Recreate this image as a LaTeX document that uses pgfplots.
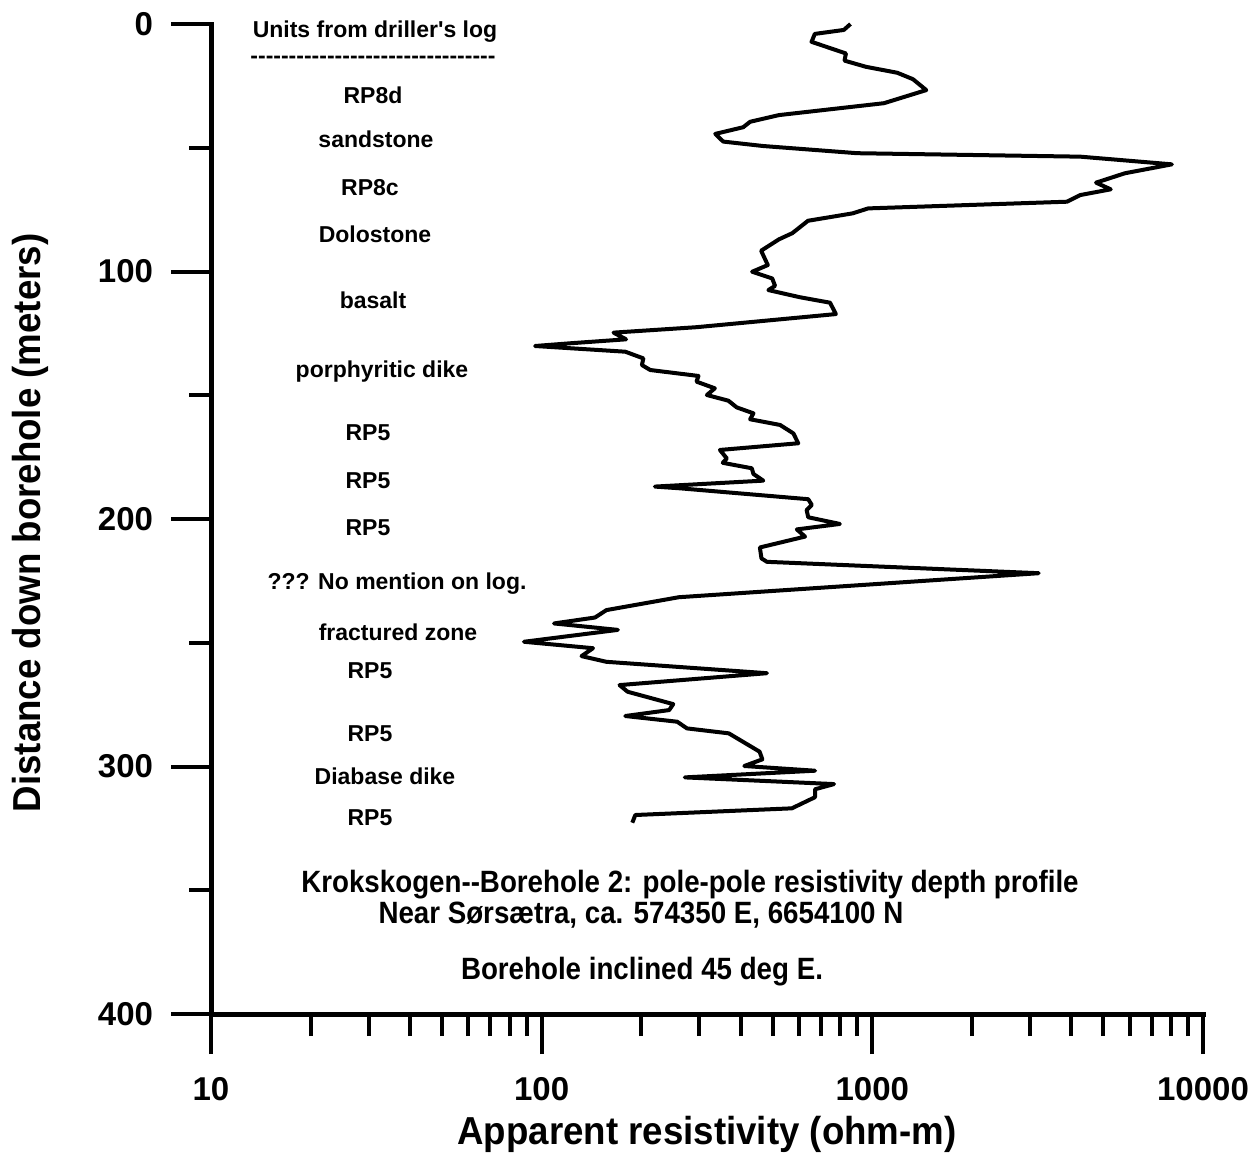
\documentclass[border=0pt]{standalone}
\usepackage{pgfplots}
\pgfplotsset{compat=1.18}
\usepackage{pgfplotstable}
\usepackage{fontspec}
\newfontfamily\lab{Liberation Sans}
\newfontfamily\narrowf{Liberation Sans}[FakeStretch=0.9]
\newfontfamily\axlab{Liberation Sans}[FakeStretch=0.94]

\pgfplotstableread{
x y
859 0
820 2.4
670 4.0
655 7.2
832 11.9
824 14.8
957 17.3
1190 19.7
1327 22.3
1456 26.7
1084 32.0
522 36.8
427 39.5
407 41.7
335 44.4
354 47.5
468 49.3
900 52.2
4258 53.6
8054 56.7
5808 60.3
4748 64.1
5260 66.8
4258 69.1
3879 71.8
972 74.5
872 76.5
639 79.5
573 84.5
522 87.0
461 91.6
483 97.4
433 100.1
498 102.8
508 105.8
485 107.5
604 110.4
745 112.6
776 117.2
294 122.5
165 124.7
180 127.4
122 129.0
95.5 130.1
122 131.0
179 132.4
203 135.1
201 137.8
213 139.8
298 142.2
294 144.5
334 147.2
316 149.9
367 152.2
389 154.9
437 157.3
427 159.7
526 162.0
577 165.4
597 169.4
346 172.1
363 175.5
353 177.3
432 179.5
437 181.8
468 184.5
220 186.9
262 187.6
640 192.0
656 194.3
633 196.4
640 199.3
798 202.0
591 204.2
626 207.1
457 211.5
462 215.9
480 217.3
3185 221.9
260 231.6
157 236.8
145 239.8
109 242.2
170 244.8
88.4 249.6
143 252.2
132 255.4
157 257.7
480 262.3
172 267.1
182 269.8
250 274.8
243 277.2
179 279.6
257 281.9
275 284.6
368 286.6
456 294.0
465 297.1
410 299.8
671 301.7
271 304.4
766 307.1
671 309.2
671 312.4
571 316.9
192 319.6
188 322.7
}\profile

\begin{document}
\begin{tikzpicture}
\begin{axis}[
  at={(0,0)}, anchor=south west,
  scale only axis, width=496pt, height=495pt,
  xmode=log, xmin=10, xmax=10000,
  ymin=0, ymax=400, y dir=reverse,
  axis x line=bottom, axis y line=left,
  axis line style={-, line width=2.5pt, line cap=rect},
  xtick={10,100,1000,10000},
  xticklabels={10,100,1000,10000},
  minor xtick={20,30,40,50,60,70,80,90,200,300,400,500,600,700,800,900,2000,3000,4000,5000,6000,7000,8000,9000},
  ytick={0,100,200,300,400},
  minor ytick={50,150,250,350},
  tick align=outside,
  major tick length=20pt, minor tick length=11pt,
  every tick/.style={black, line width=2pt},
  /pgf/number format/assume math mode=true,
  ticklabel style={font=\lab\bfseries\fontsize{16.5}{18}\selectfont},
  xticklabel style={yshift=-8pt},
  yticklabel style={xshift=-5.5pt},
  clip=false,
]
\addplot[black, line width=2pt, line join=round, mark=none] table[x=x, y=y] {\profile};
\end{axis}
% texts: x_pt=(px-211)*0.5, y_pt=(1014-py)*0.5
\begin{scope}[every node/.style={inner sep=0pt, anchor=base, font=\lab\bfseries\fontsize{11.5}{13}\selectfont}]
\node at (82pt,488pt) {Units from driller's log};
\node at (81pt,475pt) {--------------------------------};
\node at (81pt,455pt) {RP8d};
\node at (82.5pt,433pt) {sandstone};
\node at (79.5pt,409pt) {RP8c};
\node at (82pt,385.5pt) {Dolostone};
\node at (81pt,352.5pt) {basalt};
\node at (85.5pt,318pt) {porphyritic dike};
\node at (78.5pt,286.5pt) {RP5};
\node at (78.5pt,262.5pt) {RP5};
\node at (78.5pt,239pt) {RP5};
\node at (93pt,212pt) {??? No mention on log.};
\node at (93.5pt,186.5pt) {fractured zone};
\node at (79.5pt,167.5pt) {RP5};
\node at (79.5pt,136pt) {RP5};
\node at (87pt,114.5pt) {Diabase dike};
\node at (79.5pt,94pt) {RP5};
\end{scope}
\begin{scope}[every node/.style={inner sep=0pt, anchor=base, font=\narrowf\bfseries\fontsize{15.4}{17}\selectfont}]
\node at (239.5pt,60.5pt) {Krokskogen--Borehole 2: pole-pole resistivity depth profile};
\node at (215pt,45pt) {Near Sørsætra, ca. 574350 E, 6654100 N};
\node at (215.5pt,17pt) {Borehole inclined 45 deg E.};
\end{scope}
\node[inner sep=0pt, anchor=base, font=\axlab\bfseries\fontsize{19.5}{22}\selectfont] at (248pt,-65.5pt) {Apparent resistivity (ohm-m)};
\node[inner sep=0pt, anchor=center, rotate=90, font=\axlab\bfseries\fontsize{19.5}{22}\selectfont] at (-90.5pt,245.5pt) {Distance down borehole (meters)};
\pgfresetboundingbox
\path (-105.5pt,-70.5pt) rectangle (524.5pt,507pt);
\end{tikzpicture}
\end{document}
